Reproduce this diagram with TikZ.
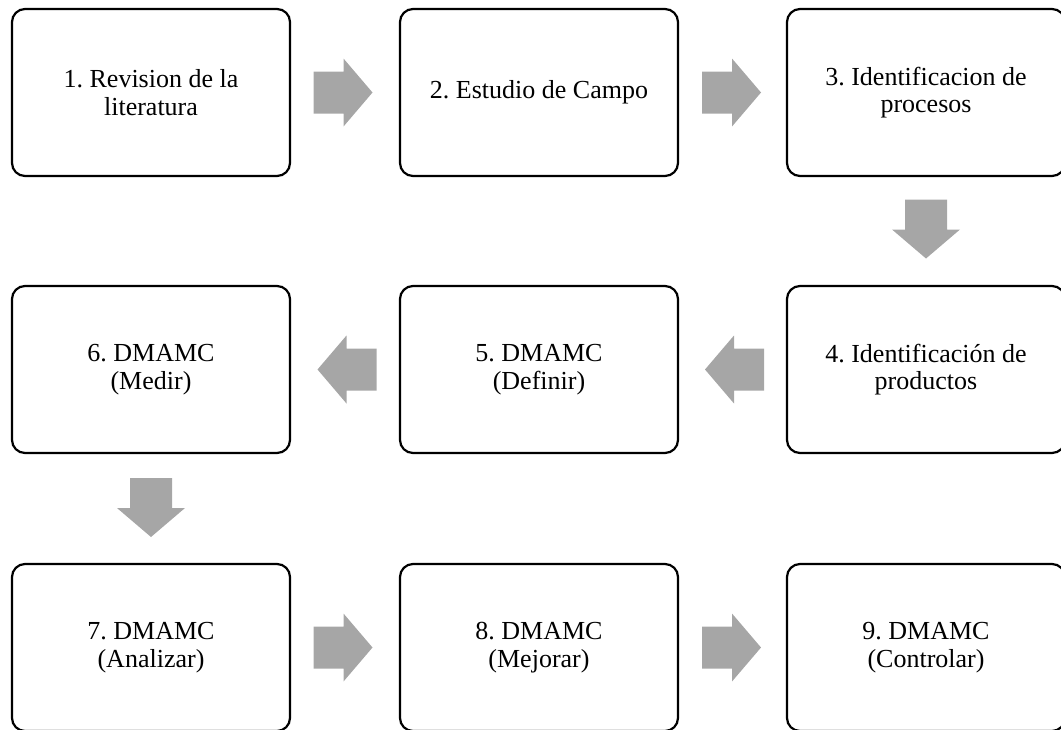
\documentclass[tikz,border=0pt]{standalone}
\usepackage{fontspec}
\setmainfont{Liberation Serif}
\usetikzlibrary{calc}
\definecolor{arrowgray}{RGB}{166,166,166}
\tikzset{
  x=1pt, y=1pt,
  stepbox/.style={draw=black, line width=2.2pt, rounded corners=13pt,
    minimum width=278pt, minimum height=167pt, align=center,
    font=\fontsize{26pt}{27.5pt}\selectfont\frenchspacing, inner sep=0pt},
  blockarrow/.pic={\fill[arrowgray] (-29.5,-21) -- (0.5,-21) -- (0.5,-34) -- (29.5,0) -- (0.5,34) -- (0.5,21) -- (-29.5,21) -- cycle;}
}
\begin{document}
\begin{tikzpicture}
\useasboundingbox (0,0) rectangle (1061,-729);
\node[stepbox] (b1) at (151,-92.5) {1. Revision de la\\literatura};
\node[stepbox] (b2) at (539,-92.5) {2. Estudio de Campo};
\node[stepbox] (b3) at (926,-92.5) {3. Identificacion de\\procesos};
\node[stepbox] (b4) at (926,-369.5) {4. Identificación de\\productos};
\node[stepbox] (b5) at (539,-369.5) {5. DMAMC\\(Definir)};
\node[stepbox] (b6) at (151,-369.5) {6. DMAMC\\(Medir)};
\node[stepbox] (b7) at (151,-647.5) {7. DMAMC\\(Analizar)};
\node[stepbox] (b8) at (539,-647.5) {8. DMAMC\\(Mejorar)};
\node[stepbox] (b9) at (926,-647.5) {9. DMAMC\\(Controlar)};
\path ($(b1.east)!0.5!(b2.west)+(-2,0)$) pic {blockarrow};
\path ($(b2.east)!0.5!(b3.west)+(-1,0)$) pic {blockarrow};
\path ($(b3.south)!0.5!(b4.north)+(0,2)$) pic[rotate=-90] {blockarrow};
\path ($(b4.west)!0.5!(b5.east)+(2,0)$) pic[rotate=180] {blockarrow};
\path ($(b5.west)!0.5!(b6.east)+(2,0)$) pic[rotate=180] {blockarrow};
\path ($(b6.south)!0.5!(b7.north)+(0,1)$) pic[rotate=-90] {blockarrow};
\path ($(b7.east)!0.5!(b8.west)+(-2,0)$) pic {blockarrow};
\path ($(b8.east)!0.5!(b9.west)+(-1,0)$) pic {blockarrow};
\end{tikzpicture}
\end{document}
